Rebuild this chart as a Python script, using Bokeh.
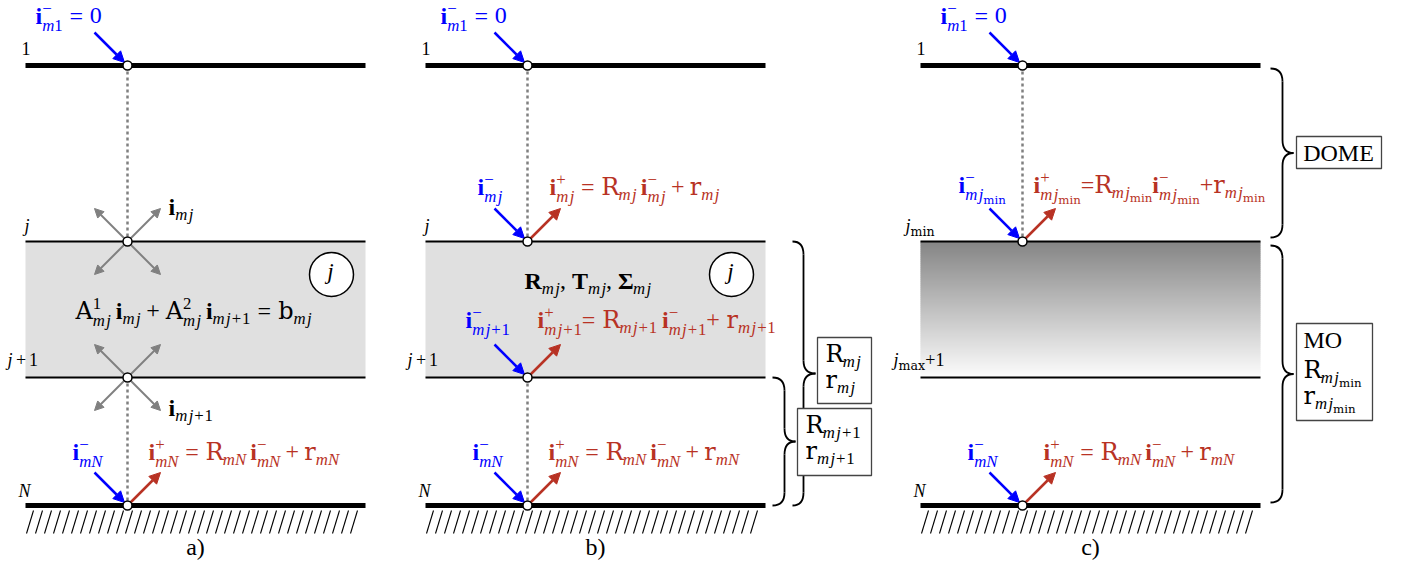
import numpy as np
from bokeh.plotting import figure
from bokeh.models import ColumnDataSource, Range1d, Arrow, NormalHead
from bokeh.embed import file_html
from bokeh.resources import INLINE

# ---------------- data ----------------
panel_labels = ["a)", "b)", "c)"]
panel_dx = [0, 400, 895]
x_left, x_right, x_node = 25, 365, 127
y_top, y_j, y_j1, y_N = 65, 241, 377, 505
top_text_x = [35, 440, 940]

BLUE, RED, GRAY, FILL = "#0000ff", "#b83224", "#808080", "#e0e0e0"

# ---------------- text layout helpers ----------------
FAM = {"rm": ("Liberation Serif", "normal"), "it": ("Liberation Serif", "italic"),
       "bf": ("Liberation Serif", "bold"), "tt": ("DejaVu Serif", "normal")}
W = {
    "rm": {"_": .5, "=": .564, "+": .564, "\u2212": .564, ",": .25, " ": .25, ")": .333, "(": .333,
           "a": .444, "b": .5, "c": .444, "D": .722, "O": .722, "M": .889, "E": .611, "i": .278, "m": .778},
    "it": {"_": .5, "m": .722, "j": .278, "N": .667, "i": .278},
    "bf": {"_": .6, "i": .278, "R": .722, "T": .667, "\u03a3": .62, ",": .25, "A": .722},
    "tt": {"_": .6, "R": .722, "r": .478, "A": .722, "b": .641, "m": .952, "i": .32, "n": .643,
           "a": .596, "x": .578},
}
SC = 0.7
YFIX = 0.37  # vertical correction of rendered text baseline (fraction of font size)


def Rm(s): return ("t", s, "rm")
def It(s): return ("t", s, "it")
def Bf(s): return ("t", s, "bf")
def Tt(s): return ("t", s, "tt")
def G(e): return ("g", e)
def SUB(*t): return ("sub", list(t))
def SS(sup, sub): return ("ss", list(sup), list(sub))


def wid(s, f):
    tb = W[f]
    return sum(tb.get(c, tb["_"]) for c in s)


def lay(toks, x, y, size, out):
    for t in toks:
        k = t[0]
        if k == "t":
            out.append((x, y, t[1], t[2], size))
            x += wid(t[1], t[2]) * size
        elif k == "g":
            x += t[1] * size
        elif k == "sub":
            x = lay(t[1], x, y + 0.22 * size, size * SC, out)
        elif k == "ss":
            x1 = lay(t[1], x, y - 0.40 * size, size * SC, out)
            x2 = lay(t[2], x, y + 0.28 * size, size * SC, out)
            x = max(x1, x2)
    return x


TXT = {k: [] for k in ["x", "y", "text", "font", "style", "size", "color"]}


def put(tokens, x, y, size, color="black", align="left"):
    runs = []
    end = lay(tokens, x, y, size, runs)
    shift = -(end - x) / 2 if align == "center" else 0
    for rx, ry, s, f, sz in runs:
        fam, sty = FAM[f]
        TXT["x"].append(rx + shift); TXT["y"].append(ry - YFIX * sz); TXT["text"].append(s)
        TXT["font"].append(fam); TXT["style"].append(sty)
        TXT["size"].append(f"{sz:.1f}px"); TXT["color"].append(color)


mj = [It("m"), G(0.08), It("j")]
mN = [It("m"), It("N")]
m1 = [It("m"), Rm("1")]
mj1 = [It("m"), G(0.08), It("j"), G(0.06), Rm("+"), G(0.04), Rm("1")]
mjmin = [It("m"), G(0.08), It("j"), SUB(Tt("min"))]
MINUS, PLUS = "\u2212", "+"

F = 24


def i_in(sub):
    return [Bf("i"), SS([Rm(MINUS)], sub)]


def refl(sub, gaps=(0.28, 0.28, 0.17, 0.22, 0.22)):
    a, b, c, d, e = gaps
    return [Bf("i"), SS([Rm(PLUS)], sub), G(a), Rm("="), G(b), Tt("R"), SUB(*sub), G(c),
            Bf("i"), SS([Rm(MINUS)], sub), G(d), Rm("+"), G(e), Tt("r"), SUB(*sub)]


top_eq = [Bf("i"), SS([Rm(MINUS)], m1), G(0.28), Rm("="), G(0.28), Rm("0")]

# ---------------- figure ----------------
PW, PH = 1400, 570
p = figure(width=PW, height=PH, x_range=Range1d(0, PW), y_range=Range1d(PH, 0),
           output_backend="svg", toolbar_location=None, x_axis_type=None, y_axis_type=None,
           min_border=0)
p.outline_line_color = None
p.xgrid.visible = False
p.ygrid.visible = False
p.background_fill_color = "white"

arrows = {"blue": [], "red": [], "gray": []}
nodes_x, nodes_y = [], []

for k, dx in enumerate(panel_dx):
    xl, xr, xn = x_left + dx, x_right + dx, x_node + dx
    # layer fill
    if k < 2:
        p.quad(left=[xl], right=[xr], top=[y_j], bottom=[y_j1], fill_color=FILL, line_color=None,
               level="image")
    else:
        n = 68
        edges = np.linspace(y_j, y_j1, n + 1)
        levels = np.linspace(134, 252, n).astype(int)
        cols = ["#%02x%02x%02x" % (g, g, g) for g in levels]
        p.quad(left=[xl] * n, right=[xr] * n, top=list(edges[:-1]), bottom=list(edges[1:] + 0.8),
               fill_color=cols, line_color=None, level="image")
    # interfaces
    p.segment(x0=[xl, xl], y0=[y_top, y_N], x1=[xr, xr], y1=[y_top, y_N], line_color="black",
              line_width=5, line_cap="butt")
    p.segment(x0=[xl, xl], y0=[y_j, y_j1], x1=[xr, xr], y1=[y_j, y_j1], line_color="black",
              line_width=2, line_cap="butt")
    # hatching
    hx = np.arange(26, 357, 9) + dx
    p.segment(x0=hx, y0=[533] * len(hx), x1=hx + 7, y1=[510] * len(hx), line_color="black",
              line_width=1.1)
    # dotted vertical
    if k < 2:
        p.segment(x0=[xn, xn], y0=[y_top, y_j1], x1=[xn, xn], y1=[y_j, y_N], line_color=GRAY,
                  line_width=2.5, line_dash="3 3")
        ny = [y_top, y_j, y_j1, y_N]
    else:
        p.segment(x0=[xn], y0=[y_top], x1=[xn], y1=[y_j], line_color=GRAY, line_width=2.5,
                  line_dash="3 3")
        ny = [y_top, y_j, y_N]
    nodes_x += [xn] * len(ny)
    nodes_y += ny
    # incoming / outgoing arrows
    inc = [y_top, y_N] + ([y_j, y_j1] if k == 1 else []) + ([y_j] if k == 2 else [])
    for yy in inc:
        arrows["blue"].append((xn - 33, yy - 33, xn - 3, yy - 3))
    out = [y_N] + ([y_j, y_j1] if k == 1 else []) + ([y_j] if k == 2 else [])
    for yy in out:
        arrows["red"].append((xn + 2, yy - 2, xn + 33, yy - 33))
    # top text + bottom texts
    put(top_eq, top_text_x[k], 24, F, BLUE)
    put(i_in(mN), xn - 55, 460, F, BLUE)
    put(refl(mN), xn + 21, 460, F, RED)
    # panel label
    put([Rm(panel_labels[k])], 195 + dx, 555, F, "black", align="center")
    # layer labels
    put([Rm("1")], 21 + dx, 55, 18)
    put([It("N")], 18 + dx, 497, 18)
    if k < 2:
        put([It("j")], 24 + dx, 232, 18)
        put([It("j"), G(0.2), Rm("+"), G(0.15), Rm("1")], 7 + dx, 366, 18)
        # layer circle
        p.scatter([331 + dx], [274], size=44, fill_color="white", line_color="black", line_width=1.5)
        put([It("j")], 330 + dx, 280, 23, align="center")

# panel a specifics
for yy in [y_j, y_j1]:
    for sx, sy in [(-1, -1), (1, -1), (-1, 1), (1, 1)]:
        arrows["gray"].append((x_node, yy, x_node + 33 * sx, yy + 33 * sy))
put([Bf("i"), SUB(*mj)], 168, 215, F)
put([Bf("i"), SUB(*mj1)], 168, 416, F)
put([Tt("A"), SS([Rm("1")], mj), G(0.2), Bf("i"), SUB(*mj), G(0.24), Rm("+"), G(0.24),
     Tt("A"), SS([Rm("2")], mj), G(0.2), Bf("i"), SUB(*mj1), G(0.3), Rm("="), G(0.3),
     Tt("b"), SUB(*mj)], 75, 319, F)

# panel b specifics
bx = x_node + panel_dx[1]
put(i_in(mj), bx - 50, 195, F, BLUE)
put(refl(mj), bx + 22, 195, F, RED)
put(i_in(mj1), bx - 62, 328, F, BLUE)
put(refl(mj1, gaps=(0.0, 0.28, 0.2, 0.0, 0.28)), bx + 10, 328, F, RED)
put([Bf("R"), SUB(*mj), Rm(","), G(0.25), Bf("T"), SUB(*mj), Rm(","), G(0.25),
     Bf("\u03a3"), SUB(*mj)], 524, 289, F)

# panel c specifics
cx = x_node + panel_dx[2]
put(i_in(mjmin), cx - 64, 193, F, BLUE)
put(refl(mjmin, gaps=(0.0, 0.0, 0.0, 0.0, 0.0)), cx + 11, 193, F, RED)
put([It("j"), SUB(Tt("min"))], 905, 232, 18)
put([It("j"), SUB(Tt("max")), Rm("+1")], 893, 366, 18)

# braces (x_end, x_mid, x_tip, y0, y1)
braces = [(792, 803, 815, 241, 505), (772, 784, 795, 377, 505),
          (1270, 1282, 1293, 68, 237), (1270, 1282, 1293, 245, 502)]
qx0, qy0, qx1, qy1, qcx, qcy = [], [], [], [], [], []
sx0, sy0, sx1, sy1 = [], [], [], []
r = 13
for xe, xm, xt, y0, y1 in braces:
    ym = (y0 + y1) / 2
    for a, b, c in [((xe, y0), (xm, y0 + r), (xm, y0)), ((xm, ym - r), (xt, ym), (xm, ym)),
                    ((xt, ym), (xm, ym + r), (xm, ym)), ((xm, y1 - r), (xe, y1), (xm, y1))]:
        qx0.append(a[0]); qy0.append(a[1]); qx1.append(b[0]); qy1.append(b[1])
        qcx.append(c[0]); qcy.append(c[1])
    sx0 += [xm, xm]; sy0 += [y0 + r, ym + r]; sx1 += [xm, xm]; sy1 += [ym - r, y1 - r]
p.quadratic(x0=qx0, y0=qy0, x1=qx1, y1=qy1, cx=qcx, cy=qcy, line_color="black", line_width=1.8)
p.segment(x0=sx0, y0=sy0, x1=sx1, y1=sy1, line_color="black", line_width=1.8)

# boxes
boxes = [(817, 337, 871, 403), (797, 408, 871, 475), (1296, 136, 1381, 168), (1296, 323, 1372, 420)]
p.quad(left=[b[0] for b in boxes], top=[b[1] for b in boxes], right=[b[2] for b in boxes],
       bottom=[b[3] for b in boxes], fill_color="white", line_color="#444444", line_width=1.3)
put([Tt("R"), SUB(*mj)], 825, 362, F)
put([Tt("r"), SUB(*mj)], 825, 388, F)
put([Tt("R"), SUB(*mj1)], 805, 433, F)
put([Tt("r"), SUB(*mj1)], 805, 459, F)
put([Rm("DOME")], 1338, 161, 24, align="center")
put([Rm("MO")], 1303, 348, 24)
put([Tt("R"), SUB(*mjmin)], 1303, 378, F)
put([Tt("r"), SUB(*mjmin)], 1303, 404, F)

# nodes
p.scatter(nodes_x, nodes_y, size=9, fill_color="white", line_color="black", line_width=1.5)

# arrows
for name, col, lw, hs in [("gray", GRAY, 2, 9), ("blue", BLUE, 2.5, 11), ("red", RED, 2.5, 11)]:
    a = arrows[name]
    src = ColumnDataSource(dict(x0=[v[0] for v in a], y0=[v[1] for v in a],
                                x1=[v[2] for v in a], y1=[v[3] for v in a]))
    p.add_layout(Arrow(end=NormalHead(size=hs, fill_color=col, line_color=col, line_width=1),
                       x_start="x0", y_start="y0", x_end="x1", y_end="y1", source=src,
                       line_color=col, line_width=lw, level="underlay"))

# texts
p.text(x="x", y="y", text="text", source=ColumnDataSource(TXT), text_font="font",
       text_font_style="style", text_font_size="size", text_color="color",
       text_baseline="alphabetic", text_align="left")

open("out.html", "w").write(file_html(p, INLINE))
